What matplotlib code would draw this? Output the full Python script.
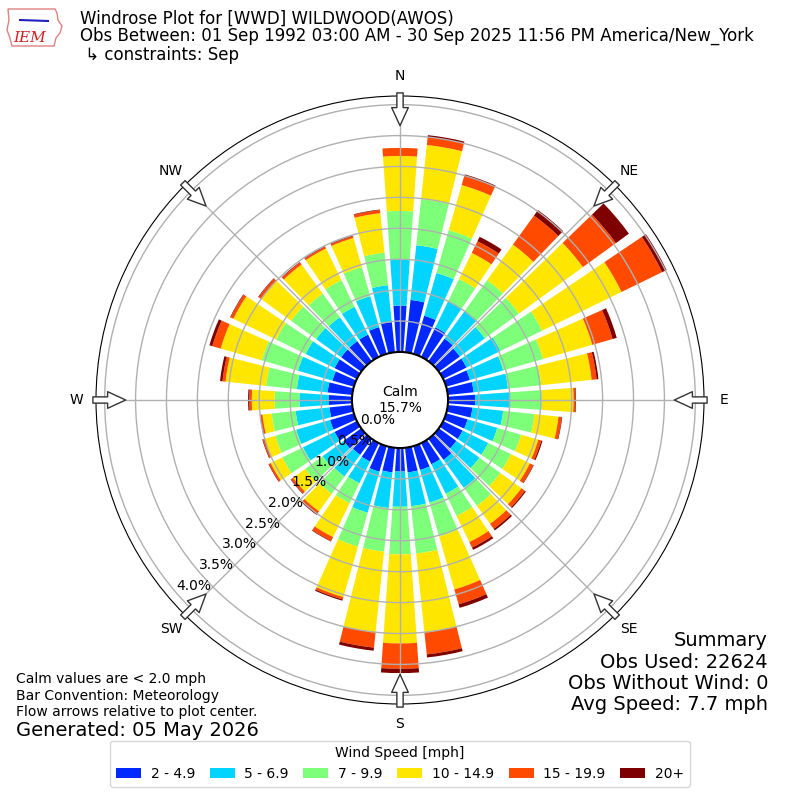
import numpy as np
import matplotlib.pyplot as plt
from matplotlib.patches import Polygon

# wind directions (deg, meteorological) and percentage of obs per speed bin
directions = list(range(0, 360, 10))
speed_labels = ["2 - 4.9", "5 - 6.9", "7 - 9.9", "10 - 14.9", "15 - 19.9", "20+"]
colors = ["#0028ff", "#00d4ff", "#7dff7a", "#ffe600", "#ff4a00", "#7f0000"]

pct_2_5 = [0.75, 0.85, 0.64, 0.53, 0.45, 0.42, 0.42, 0.40, 0.42, 0.44,
           0.40, 0.36, 0.35, 0.35, 0.42, 0.38, 0.40, 0.40, 0.38, 0.40,
           0.43, 0.33, 0.32, 0.35, 0.40, 0.40, 0.37, 0.38, 0.40, 0.36,
           0.40, 0.40, 0.40, 0.40, 0.45, 0.49]
pct_5_7 = [0.74, 0.89, 0.72, 0.47, 0.55, 0.50, 0.61, 0.56, 0.56, 0.56,
           0.50, 0.50, 0.46, 0.46, 0.56, 0.53, 0.55, 0.55, 0.57, 0.58,
           0.69, 0.39, 0.43, 0.42, 0.57, 0.57, 0.55, 0.47, 0.50, 0.58,
           0.52, 0.50, 0.48, 0.50, 0.52, 0.60]
pct_7_10 = [0.79, 0.75, 0.72, 0.40, 0.62, 0.68, 0.75, 0.67, 0.54, 0.52,
            0.51, 0.40, 0.41, 0.42, 0.36, 0.40, 0.57, 0.77, 0.77, 0.71,
            0.57, 0.36, 0.35, 0.35, 0.37, 0.35, 0.39, 0.40, 0.50, 0.61,
            0.53, 0.50, 0.47, 0.48, 0.49, 0.53]
pct_10_15 = [0.89, 0.88, 0.76, 0.47, 0.71, 1.28, 1.43, 0.83, 0.82, 0.51,
             0.39, 0.29, 0.34, 0.42, 0.36, 0.47, 0.89, 1.28, 1.44, 1.31,
             0.85, 0.61, 0.35, 0.24, 0.21, 0.18, 0.15, 0.37, 0.66, 0.69,
             0.77, 0.60, 0.58, 0.57, 0.49, 0.64]
pct_15_20 = [0.13, 0.13, 0.15, 0.21, 0.58, 0.66, 0.73, 0.34, 0.08, 0.03,
             0.05, 0.05, 0.06, 0.07, 0.10, 0.10, 0.25, 0.36, 0.41, 0.25,
             0.04, 0.07, 0.05, 0.04, 0.03, 0.03, 0.03, 0.04, 0.05, 0.14,
             0.05, 0.05, 0.04, 0.03, 0.03, 0.05]
pct_20_up = [0.00, 0.03, 0.03, 0.08, 0.11, 0.26, 0.08, 0.07, 0.03, 0.01,
             0.01, 0.02, 0.01, 0.02, 0.03, 0.04, 0.06, 0.05, 0.07, 0.05,
             0.02, 0.01, 0.02, 0.01, 0.01, 0.01, 0.01, 0.02, 0.04, 0.05,
             0.01, 0.01, 0.01, 0.01, 0.01, 0.01]
bins = [pct_2_5, pct_5_7, pct_7_10, pct_10_15, pct_15_20, pct_20_up]

calm_pct = 15.7
radial_ticks = [0.0, 0.5, 1.0, 1.5, 2.0, 2.5, 3.0, 3.5, 4.0]
compass = ["N", "NE", "E", "SE", "S", "SW", "W", "NW"]

fig = plt.figure(figsize=(8, 8), dpi=100)
ax = fig.add_axes([0.12, 0.12, 0.76, 0.76], projection="polar")
ax.set_theta_zero_location("N")
ax.set_theta_direction(-1)

theta = np.radians(directions)
bottom = np.zeros(len(directions))
for vals, color, label in zip(bins, colors, speed_labels):
    ax.bar(theta, vals, width=np.radians(8), bottom=bottom, color=color,
           label=label, linewidth=0)
    bottom += np.array(vals)

ax.set_rorigin(-0.777)
ax.set_rlim(0, 4.14)
ax.set_yticks(radial_ticks)
ax.set_yticklabels([])
ax.set_xticks(np.radians(range(0, 360, 45)))
ax.set_xticklabels([])
ax.grid(True, color="#b0b0b0", lw=1)
ax.spines["inner"].set_linewidth(1.5)

# radial labels
for v in radial_ticks:
    ax.text(np.radians(228), v - 0.29, f"{v:.1f}%", ha="center", va="center", fontsize=10)

# compass labels and flow arrows
for i, lbl in enumerate(compass):
    ang = np.radians(i * 45)
    ax.text(ang, 4.46, lbl, ha="center", va="center", fontsize=10)
    ax.annotate("", xy=(ang, 3.66), xytext=(ang, 4.19), annotation_clip=False,
                arrowprops=dict(arrowstyle="simple,head_length=1.3,head_width=1.2,tail_width=0.45",
                                fc="white", ec="#333333", lw=1, shrinkA=0, shrinkB=0,
                                mutation_scale=10))

ax.text(0.5, 0.5, f"Calm\n{calm_pct:.1f}%", transform=ax.transAxes,
        ha="center", va="center", fontsize=10)

# titles
fig.text(0.1, 0.976, "Windrose Plot for [WWD] WILDWOOD(AWOS)", fontsize=12, va="center")
fig.text(0.1, 0.955, "Obs Between: 01 Sep 1992 03:00 AM - 30 Sep 2025 11:56 PM America/New_York",
         fontsize=12, va="center")
fig.text(0.1, 0.931, " \u21b3 constraints: Sep", fontsize=12, va="center")

# small logo
px = lambda x, y: (x / 800, 1 - y / 800)
iowa = [px(8, 9), px(55, 9), px(57, 13), px(58, 20), px(62, 26), px(60, 33),
        px(56, 38), px(54, 46), px(12, 46), px(10, 38), px(7, 30), px(9, 20)]
fig.patches.append(Polygon(iowa, closed=True, fill=False, ec="#e08080", lw=1,
                           transform=fig.transFigure))
fig.lines.append(plt.Line2D([20 / 800, 48 / 800], [1 - 20 / 800, 1 - 21 / 800],
                            color="#2020c0", lw=1.5, transform=fig.transFigure))
fig.text(30 / 800, 1 - 38 / 800, "IEM", color="#d02020", fontsize=11,
         family="serif", style="italic", ha="center", va="center")

# summary
fig.text(0.96, 0.2, "Summary", fontsize=14, ha="right", va="center")
fig.text(0.96, 0.1725, "Obs Used: 22624", fontsize=14, ha="right", va="center")
fig.text(0.96, 0.146, "Obs Without Wind: 0", fontsize=14, ha="right", va="center")
fig.text(0.96, 0.119, "Avg Speed: 7.7 mph", fontsize=14, ha="right", va="center")

fig.text(0.02, 0.151, "Calm values are < 2.0 mph", fontsize=10, va="center")
fig.text(0.02, 0.13, "Bar Convention: Meteorology", fontsize=10, va="center")
fig.text(0.02, 0.11, "Flow arrows relative to plot center.", fontsize=10, va="center")
fig.text(0.02, 0.0875, "Generated: 05 May 2026", fontsize=14, va="center")

handles, labels = ax.get_legend_handles_labels()
fig.legend(handles, labels, loc="lower center", bbox_to_anchor=(0.5, 0.008), ncol=6,
           title="Wind Speed [mph]", fontsize=10, title_fontsize=10,
           handlelength=1.8, handletextpad=0.7, columnspacing=1.05)

fig.savefig("out.png", dpi=100)
